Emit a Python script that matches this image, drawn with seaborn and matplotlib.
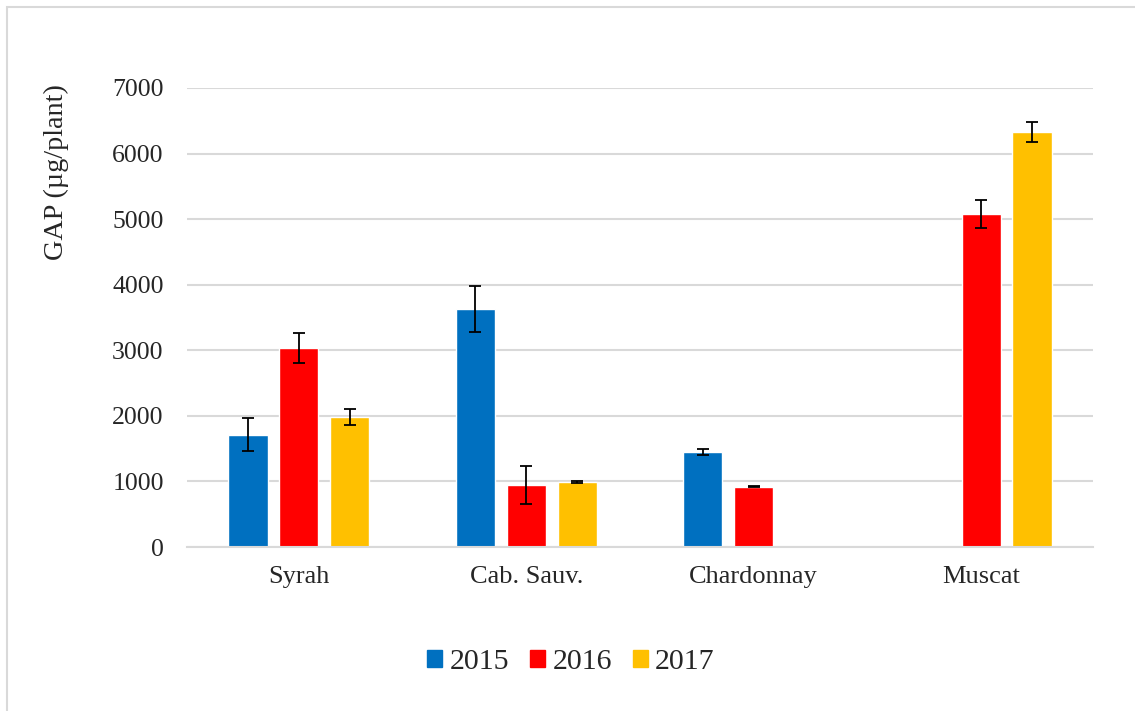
import matplotlib.pyplot as plt
import matplotlib.patches as mpatches
import pandas as pd
import seaborn as sns

# Data
varieties = ['Syrah', 'Cab. Sauv.', 'Chardonnay', 'Muscat']
years = ['2015', '2016', '2017']
gap_2015 = [1710, 3630, 1450, None]
gap_2016 = [3035, 950, 920, 5080]
gap_2017 = [1980, 995, None, 6325]
err_2015 = [250, 345, 50, None]
err_2016 = [225, 290, 8, 215]
err_2017 = [127, 15, None, 155]

colors = ['#0070C0', '#FF0000', '#FFC000']

rows = []
for year, vals, errs in zip(years, [gap_2015, gap_2016, gap_2017], [err_2015, err_2016, err_2017]):
    for v, val, err in zip(varieties, vals, errs):
        rows.append({'variety': v, 'year': year, 'value': val, 'err': err})
df = pd.DataFrame(rows)

sns.set_style('white')
plt.rcParams['font.family'] = ['Liberation Serif', 'DejaVu Serif']

fig = plt.figure(figsize=(11.35, 7.11), dpi=100)
ax = fig.add_axes([187.3 / 1135, 1 - 547 / 711, (1092.7 - 187.3) / 1135, (547 - 88) / 711])

sns.barplot(data=df.dropna(subset=['value']), x='variety', y='value', hue='year',
            order=varieties, hue_order=years, palette=colors,
            errorbar=None, width=0.67, gap=0.23, saturation=1, ax=ax)

# Error bars placed on the bars seaborn drew
for year, container in zip(years, ax.containers):
    sub = df[(df['year'] == year)].dropna(subset=['value'])
    lookup = dict(zip(sub['value'], sub['err']))
    for bar in container:
        h = bar.get_height()
        if h in lookup:
            ax.errorbar(bar.get_x() + bar.get_width() / 2, h, yerr=lookup[h],
                        color='black', elinewidth=1.3, capsize=4.5, capthick=1.3)

ax.set_ylim(0, 7000)
ax.set_yticks(range(0, 7001, 1000))
ax.yaxis.grid(True, color='#d9d9d9', linewidth=1.5)
ax.set_axisbelow(True)
for side in ['top', 'right', 'left']:
    ax.spines[side].set_visible(False)
ax.spines['bottom'].set_color('#d9d9d9')
ax.spines['bottom'].set_linewidth(1.5)
ax.tick_params(axis='y', length=0, pad=17, labelsize=18.5)
ax.tick_params(axis='x', length=0, pad=14, labelsize=19)
ax.set_xlabel('')
ax.set_ylabel('GAP (µg/plant)', fontsize=20.3)
ax.yaxis.label.set_va('center')
ax.yaxis.set_label_coords((56 - 187.3) / 905.4, (547 - 172.5) / 459)

ax.get_legend().remove()
handles = [mpatches.Patch(color=c, label=y) for c, y in zip(colors, years)]
fig.legend(handles=handles, loc='center', bbox_to_anchor=(0.503, 1 - 662 / 711), ncol=3,
           frameon=False, fontsize=21.5, handlelength=0.5, handleheight=0.5,
           handletextpad=0.25, columnspacing=0.7)

# light chart border
fig.patches.append(mpatches.Rectangle((7 / 1135, -0.1), 1.2, 1.1 - 7 / 711,
                                      transform=fig.transFigure, fill=False,
                                      edgecolor='#d9d9d9', linewidth=1.5))

fig.savefig('out.png', dpi=100)
